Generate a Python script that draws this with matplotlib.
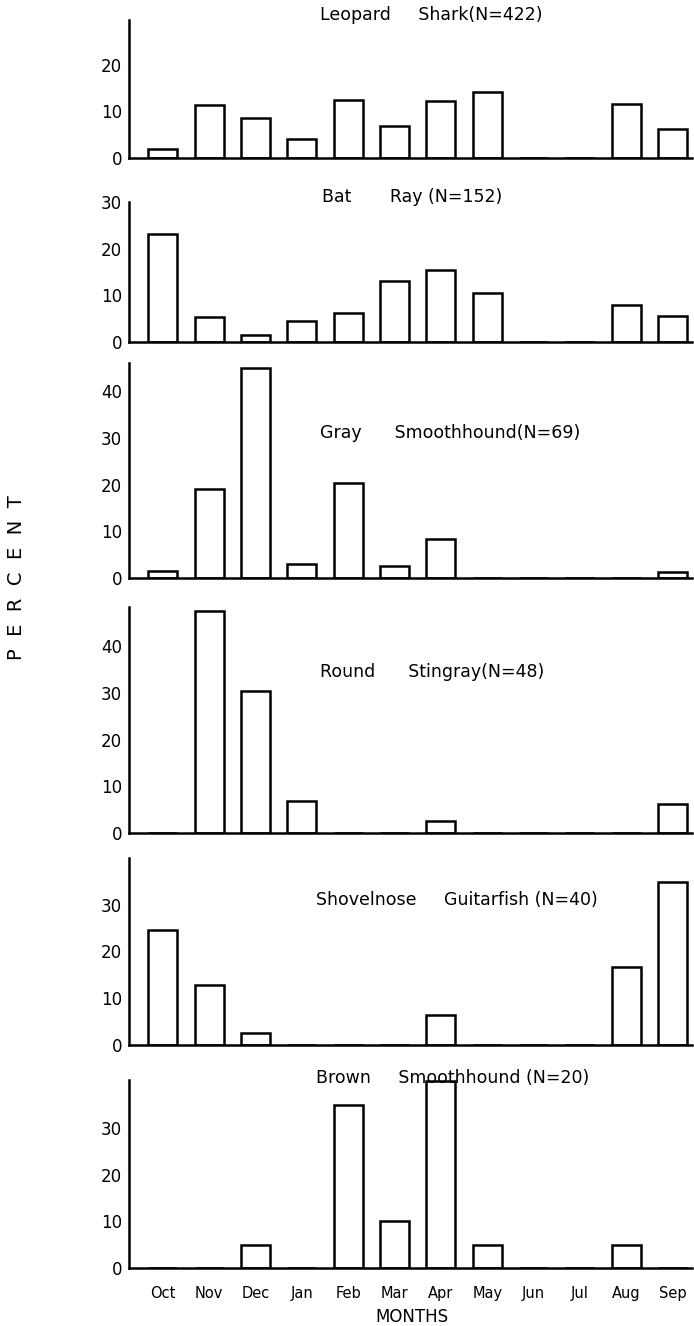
import matplotlib

matplotlib.use("Agg")
import matplotlib.pyplot as plt  # noqa: E402

months = ["Oct", "Nov", "Dec", "Jan", "Feb", "Mar", "Apr", "May", "Jun", "Jul", "Aug", "Sep"]

species = [
    "Leopard     Shark(N=422)",
    "Bat       Ray (N=152)",
    "Gray      Smoothhound(N=69)",
    "Round      Stingray(N=48)",
    "Shovelnose     Guitarfish (N=40)",
    "Brown     Smoothhound (N=20)",
]

leopard = [1.9, 11.4, 8.6, 4.1, 12.5, 6.9, 12.3, 14.2, 0, 0, 11.6, 6.2]
bat_ray = [23.2, 5.4, 1.4, 4.5, 6.3, 13.0, 15.4, 10.4, 0, 0, 7.9, 5.6]
gray = [1.4, 19.1, 45.0, 2.9, 20.3, 2.5, 8.4, 0, 0, 0, 0, 1.3]
round_sting = [0, 47.6, 30.5, 6.9, 0, 0, 2.6, 0, 0, 0, 0, 6.2]
shovelnose = [24.6, 12.9, 2.6, 0, 0, 0, 6.5, 0, 0, 0, 16.6, 34.9]
brown = [0, 0, 5, 0, 35, 10, 40, 5, 0, 0, 5, 0]

series = [leopard, bat_ray, gray, round_sting, shovelnose, brown]
yticks = [[0, 10, 20], [0, 10, 20, 30], [0, 10, 20, 30, 40], [0, 10, 20, 30, 40],
          [0, 10, 20, 30], [0, 10, 20, 30]]
ytops = [29.6, 30.0, 46.0, 48.4, 40.0, 40.3]

# layout in pixels of the 694x1326 page
W, H = 694, 1326
LEFT, RIGHT = 129, 692
panels_px = [(20, 158), (202, 342), (363, 578), (607, 833), (858, 1045), (1080, 1268)]
title_px = [(320, 15), (322, 197), (320, 433), (320, 672), (316, 900), (316, 1078)]

plt.rcParams["font.family"] = ["DejaVu Sans"]

fig = plt.figure(figsize=(W / 100, H / 100), dpi=100)
x = list(range(len(months)))

for i, (vals, (top, base)) in enumerate(zip(series, panels_px)):
    ax = fig.add_axes([LEFT / W, 1 - base / H, (RIGHT - LEFT) / W, (base - top) / H])
    ax.bar(x, vals, width=0.63, color="white", edgecolor="black", linewidth=1.8)
    ax.set_xlim(-0.73, 11.42)
    ax.set_ylim(0, ytops[i])
    ax.set_yticks(yticks[i])
    ax.tick_params(axis="y", length=0, pad=5, labelsize=12)
    for s in ("top", "right"):
        ax.spines[s].set_visible(False)
    ax.spines["left"].set_linewidth(1.8)
    ax.spines["bottom"].set_linewidth(1.8)
    if i == len(series) - 1:
        ax.set_xticks(x)
        ax.set_xticklabels(months, fontsize=10.5)
        ax.tick_params(axis="x", length=0, pad=13)
    else:
        ax.set_xticks([])
    tx, ty = title_px[i]
    fig.text(tx / W, 1 - ty / H, species[i], fontsize=12.5, ha="left", va="center")

fig.text(412 / W, 1 - 1317 / H, "MONTHS", fontsize=12, ha="center", va="center")
fig.text(17 / W, 1 - 578 / H, "P  E  R  C  E  N  T", fontsize=14,
         rotation=90, ha="center", va="center")

fig.savefig("out.png", dpi=100)
